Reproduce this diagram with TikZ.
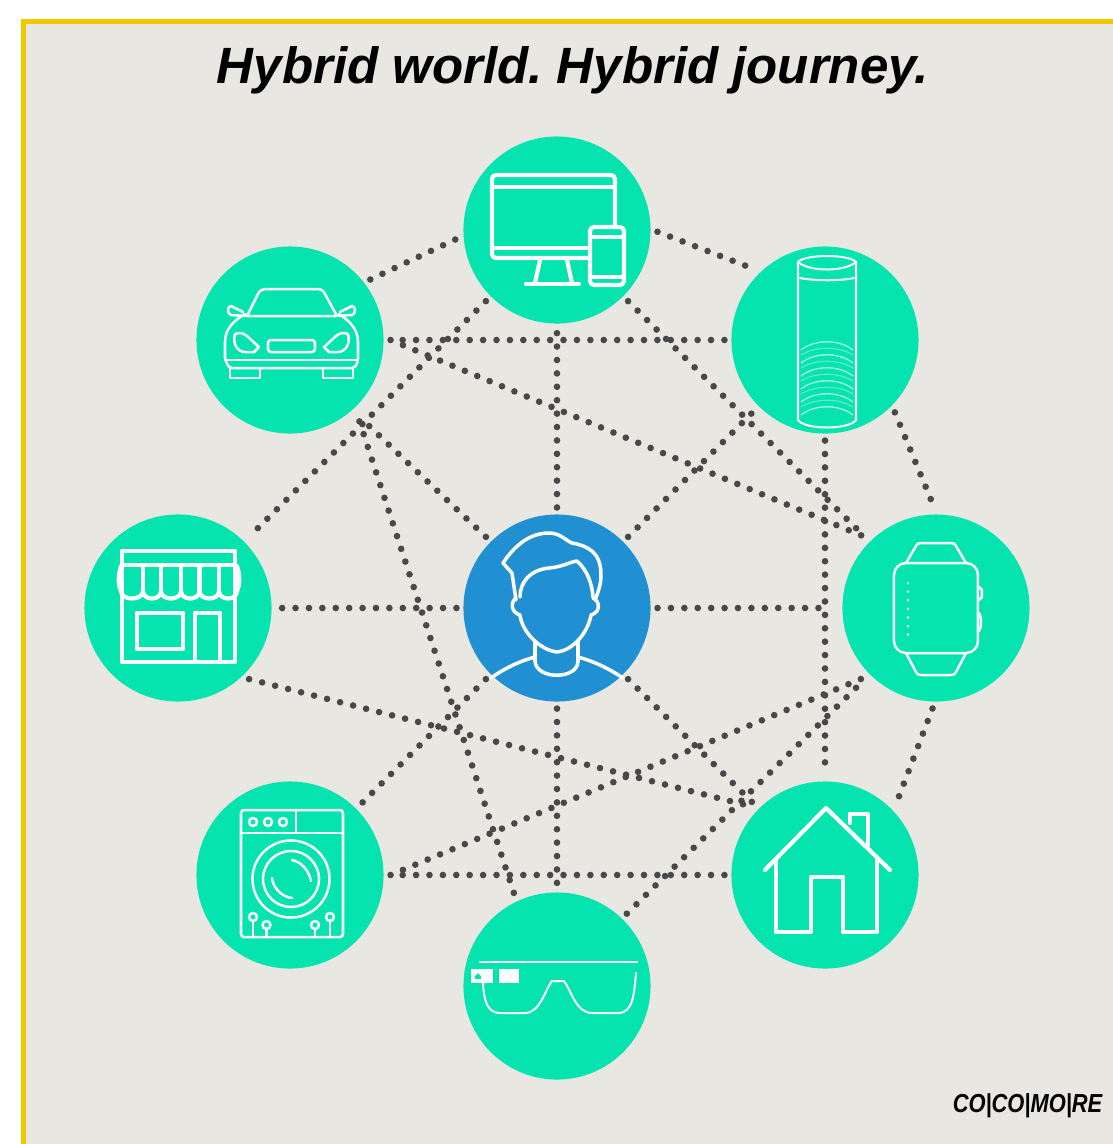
\documentclass[tikz,border=0pt]{standalone}
\usepackage{fontspec}
\setmainfont{Liberation Sans}
\usetikzlibrary{arrows,backgrounds}
\definecolor{panelGrey}{HTML}{E8E7E2}
\definecolor{frameGold}{HTML}{EEC900}
\definecolor{hubTeal}{HTML}{05E3AE}
\definecolor{userBlue}{HTML}{2190D3}
\definecolor{dotGrey}{HTML}{484848}
\newcommand{\circleSize}{1.87cm}
\newcommand{\linkGap}{0.07cm}
\tikzset{
  device/.style={circle,fill=hubTeal,minimum size=\circleSize,inner sep=0pt,outer sep=\linkGap},
  person/.style={device,fill=userBlue},
  link/.style={draw=dotGrey,line width=0.066cm,line cap=round,dash pattern=on 0pt off 0.134cm},
  iconThick/.style={draw=white,line width=0.042cm,line join=round,line cap=round},
  iconThin/.style={draw=white,line width=0.025cm,line join=round,line cap=round},
}
\begin{document}
\begin{tikzpicture}[x=0.01cm,y=-0.01cm]
\useasboundingbox (0,0) rectangle (1113,1144);
\fill[white] (0,0) rectangle (1113,1144);
\fill[frameGold] (21,19) rectangle (1113,1144);
\fill[panelGrey] (26,24) rectangle (1113,1144);

\node (title) at (573,70) {\frenchspacing\fontsize{14.5}{17}\selectfont\bfseries\itshape Hybrid world. Hybrid journey.};
\node (brand) [anchor=east,inner sep=0pt] at (1103,1106) {\scalebox{0.84}[1]{\fontsize{7.4}{9}\selectfont\bfseries\itshape CO|CO|MO|RE}};

\node[device] (screens) at (557,230) {};
\node[device] (speaker) at (825,340) {};
\node[device] (watch) at (936,608) {};
\node[device] (house) at (825,875) {};
\node[device] (glasses) at (557,986) {};
\node[device] (washer) at (290,875) {};
\node[device] (shop) at (178,608) {};
\node[device] (car) at (290,340) {};
\node[person] (user) at (557,608) {};

% the ring
\draw[link] (car.37) -- (screens.185);
\draw[link] (screens.359) -- (speaker.135);
\draw[link] (speaker.-46) -- (watch.91);
\draw[link] (watch.268) -- (house.45);
% through the hub
\draw[link] (user.180) -- (shop.0);
\draw[link,shorten >=0.07cm] (user.0) -- (watch.180);
\draw[link] (user.90) -- (screens.270);
\draw[link] (user.270) -- (glasses.90);
\draw[link,shorten >=0.07cm] (user.135) -- (car.312);
\draw[link] (user.45) -- (speaker.225);
\draw[link,shorten >=0.02cm] (user.225) -- (washer.45);
\draw[link] (user.-45) -- (house.135);
% long chords
\draw[link] (speaker.180) -- (car.0);
\draw[link] (car.0) -- (watch.135);
\draw[link,shorten <=0.07cm] (car.312) -- (glasses.115);
\draw[link] (screens.225) -- (shop.45);
\draw[link] (screens.-45) -- (watch.135);
\draw[link] (speaker.270) -- (house.90);
\draw[link] (shop.-45) -- (house.137);
\draw[link] (house.180) -- (washer.0);
\draw[link] (washer.0) -- (watch.224);
\draw[link] (glasses.46) -- (watch.225);

% screens
\draw[iconThick,rounded corners=0.04cm] (587,258) -- (492,258) -- (492,175) -- (615,175) -- (615,226);
\draw[iconThick] (492,187) -- (615,187);
\draw[iconThick] (492,248) -- (587,248);
\draw[iconThick] (540,260) -- (535,283);
\draw[iconThick] (567,260) -- (572,283);
\draw[iconThick] (526,284) -- (579,284);
\draw[iconThick,rounded corners=0.04cm] (590,227) rectangle (624,285);
\draw[iconThick] (590,237) -- (624,237);
\draw[iconThick] (590,277) -- (624,277);

% car
\draw[iconThin] (247,316) -- (258,294) .. controls (260,290) and (262,289) .. (268,289) -- (316,289) .. controls (321,289) and (323,290) .. (325,294) -- (337,316) -- cycle;
\draw[iconThin] (245,314) .. controls (235,320) and (225,328) .. (225,342) -- (225,358) .. controls (226,362) and (228,368) .. (232,368) -- (352,368) .. controls (356,368) and (358,362) .. (358,358) -- (358,342) .. controls (358,328) and (348,320) .. (339,314);
\draw[iconThin] (227,360) -- (356,360);
\draw[iconThin] (243,312) -- (231,306) .. controls (227,306) and (227,314) .. (231,315) -- (245,316);
\draw[iconThin] (340,312) -- (352,306) .. controls (356,306) and (356,314) .. (352,315) -- (338,316);
\draw[iconThin] (235,334) .. controls (240,332) and (243,333) .. (247,336) -- (259,347) -- (254,352) -- (245,352) .. controls (238,352) and (232,344) .. (235,334) -- cycle;
\draw[iconThin] (348,334) .. controls (343,332) and (340,333) .. (336,336) -- (324,347) -- (329,352) -- (338,352) .. controls (345,352) and (351,344) .. (348,334) -- cycle;
\draw[iconThin,rounded corners=0.03cm] (268,340) rectangle (315,352);
\draw[iconThin] (230,369) -- (230,378) -- (260,378) -- (260,369);
\draw[iconThin] (323,369) -- (323,378) -- (353,378) -- (353,369);

% speaker
\draw[iconThin,line width=0.02cm] (798,262) -- (798,420) .. controls (805,430) and (849,430) .. (856,420) -- (856,262) .. controls (849,254) and (805,254) .. (798,262);
\draw[iconThin,line width=0.02cm] (798,262) .. controls (810,272) and (844,272) .. (856,262);
\draw[iconThin,line width=0.02cm] (800,278) .. controls (815,281) and (840,281) .. (854,278);
\foreach \waveY in {342,355,368,381,394,407}
  \draw[white,line width=0.014cm,opacity=0.6] (801,\waveY+8) .. controls (815,\waveY-3) and (839,\waveY-3) .. (853,\waveY+8);
\foreach \waveY in {349,362,375,388,401}
  \draw[white,line width=0.012cm,opacity=0.35] (801,\waveY+6) .. controls (815,\waveY-3) and (839,\waveY-3) .. (853,\waveY+6);

% watch
\draw[iconThin,rounded corners=0.12cm] (894,563) rectangle (978,653);
\draw[iconThin] (906,563) -- (916,546) .. controls (918,543) and (919,543) .. (922,543) -- (950,543) .. controls (953,543) and (954,543) .. (956,546) -- (966,563);
\draw[iconThin] (906,653) -- (916,672) .. controls (918,675) and (919,675) .. (922,675) -- (950,675) .. controls (953,675) and (954,675) .. (956,672) -- (966,653);
\draw[iconThin] (979,587) -- (982,590) -- (982,597) -- (979,600);
\draw[iconThin] (979,613) -- (981,618) -- (981,626) -- (979,631);
\foreach \dotY in {583,591.6,600.2,608.8,617.4,626,634.6}
  \fill[white,opacity=0.85] (908,\dotY) circle (0.015cm);

% house
\draw[iconThick] (765,870) -- (826,808) -- (890,870);
\draw[iconThick] (776,860) -- (776,932) -- (811,932) -- (811,877) -- (843,877) -- (843,932) -- (877,932) -- (877,860);
\draw[iconThick] (850,823) -- (850,814) -- (868,814) -- (868,845);

% glasses
\draw[iconThin] (480,962) -- (637,962);
\fill[white] (471,969) rectangle (493,983);
\fill[white] (499,969) rectangle (519,983);
\fill[hubTeal] (478,973) -- (481,976) -- (481,979) -- (475,979) -- (475,976) -- cycle;
\draw[iconThin,line width=0.02cm] (483,983) .. controls (484,1000) and (487,1013) .. (500,1013) -- (525,1013) .. controls (540,1013) and (545,990) .. (552,981) -- (564,981) .. controls (571,990) and (576,1013) .. (592,1013) -- (618,1013) .. controls (633,1013) and (634,995) .. (636,973);

% washer
\draw[iconThin,rounded corners=0.03cm] (241,937) -- (241,810) -- (343,810) -- (343,937) -- cycle;
\draw[iconThin] (241,833) -- (343,833);
\draw[iconThin] (296,810) -- (296,832);
\foreach \knobX in {253,268,283}
  \draw[iconThin] (\knobX,822) circle (0.04cm);
\draw[iconThin] (291,879) circle (0.385cm);
\draw[iconThin] (291,879) circle (0.28cm);
\draw[iconThin] (292,860) .. controls (302,862) and (309,871) .. (311,881);
\draw[iconThin] (272,878) .. controls (273,888) and (282,897) .. (292,898);
\foreach \pinX/\pinY in {253/917,266.5/925,315/925,330/917} {
  \draw[iconThin] (\pinX,\pinY) circle (0.04cm);
  \draw[iconThin] (\pinX,\pinY+4) -- (\pinX,937);
}

% shop
\draw[iconThick,line cap=butt] (122,598) -- (122,551) -- (235,551) -- (235,598);
\draw[iconThick] (122,598) -- (122,662) -- (235,662) -- (235,598);
\draw[iconThick] (122,565) -- (235,565);
\foreach \stripeX in {143,161,181,199.5,219}
  \draw[iconThick] (\stripeX,566) -- (\stripeX,591);
\foreach \scallopA/\scallopB in {121/143,143/161,161/181,181/199.5,199.5/219,219/237}
  \draw[iconThick] (\scallopA,591) .. controls (\scallopA,601) and (\scallopB,601) .. (\scallopB,591);
\draw[iconThick] (121,566) .. controls (118,575) and (118,585) .. (121,591);
\draw[iconThick] (237,566) .. controls (240,575) and (240,585) .. (237,591);
\draw[iconThick] (137,613) rectangle (183,649);
\draw[iconThick] (195,662) -- (195,613) -- (220,613) -- (220,662);

% user
\draw[iconThick,line width=0.035cm] (503,563) .. controls (515,545) and (530,533) .. (549,533) .. controls (560,533) and (565,540) .. (572,543) .. controls (588,546) and (601,552) .. (601,575) .. controls (601,585) and (598,592) .. (595,600);
\draw[iconThick,line width=0.035cm] (503,563) -- (512,573) -- (516,600);
\draw[iconThick,line width=0.035cm] (520,597) .. controls (520,582) and (530,570) .. (549,568) .. controls (562,567) and (570,562) .. (577,561) .. controls (587,570) and (592,583) .. (593,597);
\draw[iconThick,line width=0.035cm] (516,598) .. controls (511,601) and (510,612) .. (520,615);
\draw[iconThick,line width=0.035cm] (593,598) .. controls (600,601) and (601,612) .. (591,615);
\draw[iconThick,line width=0.035cm] (520,615) .. controls (522,632) and (540,650) .. (557,652) .. controls (574,650) and (588,632) .. (591,615);
\draw[iconThick,line width=0.035cm] (535,641) -- (535,661) .. controls (536,680) and (578,680) .. (578,661) -- (578,641);
\draw[iconThick,line width=0.035cm] (491,678) .. controls (505,668) and (520,661) .. (535,657);
\draw[iconThick,line width=0.035cm] (578,657) .. controls (593,661) and (608,668) .. (623,678);
\end{tikzpicture}
\end{document}
